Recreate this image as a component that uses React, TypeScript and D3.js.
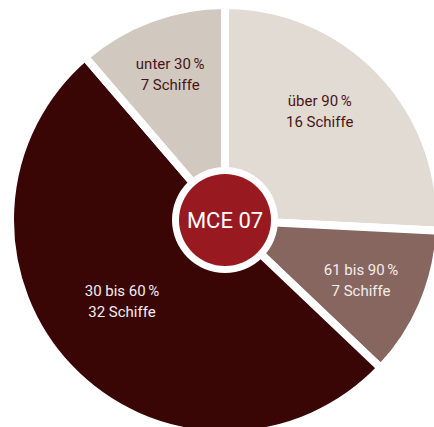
import React, { useEffect } from "react";
import * as d3 from "d3";

const categories = ["über 90", "61 bis 90", "30 bis 60", "unter 30"];
const percentSign = "%";
const ships = [16, 7, 32, 7];
const shipLabels = ["16 Schiffe", "7 Schiffe", "32 Schiffe", "7 Schiffe"];
const colors = ["#e1dbd4", "#876660", "#390505", "#d1c8c0"];
const textColors = ["#4a1414", "#f4eeea", "#f4eeea", "#4a1414"];
const centerLabel = "MCE 07";

const W = 434, H = 427;
const cx = 225, cy = 220, R = 215;
const labelR = [146, 148, 130, 158];
const labelShift = [-6, 0, 6, 0]; // degrees

export default function App() {
  useEffect(() => { document.body.style.margin = "0"; }, []);
  const pie = d3.pie<number>().sort(null).value((d) => d)(ships);
  const arc = d3.arc<d3.PieArcDatum<number>>().innerRadius(0).outerRadius(R);
  return (
    <svg width={W} height={H} style={{ display: "block" }} fontFamily="Roboto, 'Liberation Sans', sans-serif">
      <g transform={`translate(${cx},${cy})`}>
        {pie.map((p, i) => (
          <path key={i} d={arc(p) || ""} fill={colors[i]} stroke="#fff" strokeWidth={8} strokeLinejoin="miter" />
        ))}
        {pie.map((p, i) => {
          const a = (p.startAngle + p.endAngle) / 2 + (labelShift[i] * Math.PI) / 180;
          const x = Math.sin(a) * labelR[i];
          const y = -Math.cos(a) * labelR[i];
          return (
            <text key={"t" + i} x={x} y={y} textAnchor="middle" fill={textColors[i]} fontSize={15}>
              <tspan x={x} dy="-0.2em">{categories[i]}<tspan dx={2.5}>{percentSign}</tspan></tspan>
              <tspan x={x} dy="1.4em">{shipLabels[i]}</tspan>
            </text>
          );
        })}
        <circle r={53} fill="#fff" />
        <circle r={46} fill="#981a20" />
        <text y={8} textAnchor="middle" fill="#fff" fontSize={22}>{centerLabel}</text>
      </g>
    </svg>
  );
}
